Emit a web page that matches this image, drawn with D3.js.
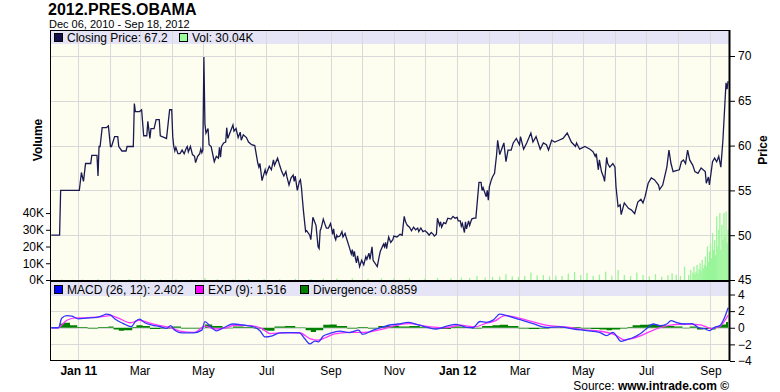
<!DOCTYPE html>
<html>
<head>
<meta charset="utf-8">
<script src="https://cdn.jsdelivr.net/npm/d3@7"></script>
<style>
  body { margin: 0; background: #fff; }
  svg { display: block; font-family: "Liberation Sans", Arial, sans-serif; }
</style>
</head>
<body>
<div class="main"></div>
<script>
// chart data: days counted from Dec 06, 2010
var startDate = new Date(2010, 11, 6);
var endDate = new Date(2012, 8, 18);

var priceDay = [0, 8, 9, 27, 29, 31, 33, 38, 39, 44, 45, 46, 47, 49, 53, 55, 57, 58, 61, 64, 65, 68, 72, 73, 79, 80, 81, 85, 87, 89, 92, 93, 95, 96, 99, 101, 104, 105, 109, 111, 114, 116, 117, 118, 119, 120, 122, 124, 126, 128, 130, 131, 132, 134, 136, 138, 139, 141, 143, 144, 145, 146, 147, 148, 149, 151, 152, 154, 157, 159, 161, 162, 163, 164, 166, 168, 169, 170, 172, 175, 176, 178, 180, 182, 183, 185, 188, 190, 193, 196, 199, 200, 201, 203, 205, 206, 207, 210, 212, 214, 215, 218, 220, 222, 224, 226, 227, 229, 231, 233, 234, 235, 237, 239, 240, 241, 242, 243, 245, 246, 249, 250, 252, 253, 255, 257, 258, 259, 260, 262, 264, 265, 267, 269, 270, 271, 272, 273, 274, 275, 276, 278, 280, 281, 283, 284, 287, 289, 290, 291, 292, 293, 294, 295, 297, 299, 301, 303, 304, 306, 307, 309, 310, 314, 316, 317, 320, 321, 322, 323, 325, 327, 329, 330, 333, 336, 338, 339, 340, 341, 342, 343, 345, 347, 349, 351, 353, 354, 356, 358, 360, 362, 364, 366, 368, 369, 371, 372, 374, 375, 376, 378, 380, 382, 385, 387, 389, 391, 392, 394, 395, 396, 398, 399, 400, 402, 403, 405, 407, 409, 412, 414, 415, 416, 419, 420, 421, 422, 424, 425, 427, 429, 430, 432, 436, 438, 440, 443, 445, 448, 451, 452, 455, 458, 462, 464, 467, 471, 474, 477, 479, 482, 485, 489, 493, 497, 501, 505, 506, 509, 514, 519, 522, 524, 525, 527, 528, 530, 532, 533, 535, 536, 538, 541, 543, 544, 546, 548, 549, 552, 556, 559, 562, 565, 568, 570, 572, 575, 578, 581, 585, 586, 589, 592, 593, 595, 597, 599, 602, 605, 607, 609, 611, 613, 615, 618, 620, 623, 626, 630, 631, 633, 634, 637, 639, 641, 643, 645, 647, 649, 650, 651, 652];
var priceVal = [50.0, 50.0, 55.0, 55.0, 57.0, 56.0, 58.0, 58.0, 58.9, 58.9, 56.6, 59.9, 59.9, 62.0, 62.0, 62.2, 59.9, 59.9, 61.0, 61.0, 59.9, 59.4, 59.4, 59.9, 59.9, 64.7, 63.8, 63.8, 64.0, 61.1, 61.1, 62.7, 60.8, 61.9, 61.9, 62.9, 62.9, 61.1, 60.9, 60.8, 64.0, 64.0, 61.0, 59.9, 59.4, 59.8, 59.1, 59.1, 59.5, 59.1, 59.7, 59.9, 59.3, 59.9, 59.0, 58.8, 58.1, 58.8, 59.1, 59.6, 59.2, 59.5, 69.9, 62.4, 61.4, 61.9, 60.1, 59.9, 58.2, 58.8, 58.6, 59.8, 58.7, 59.9, 60.3, 60.4, 62.0, 60.8, 61.4, 62.3, 61.6, 61.9, 60.9, 61.5, 60.6, 61.2, 60.9, 60.4, 60.1, 60.0, 58.0, 57.6, 58.0, 56.1, 56.9, 57.3, 56.8, 57.7, 57.3, 58.4, 57.8, 58.6, 57.8, 57.1, 56.6, 57.1, 56.5, 55.6, 56.4, 56.7, 56.0, 56.6, 55.0, 56.0, 56.2, 55.3, 53.9, 52.6, 50.4, 50.5, 50.0, 49.5, 52.0, 51.7, 51.1, 48.7, 48.5, 50.5, 50.8, 51.8, 51.1, 50.8, 50.8, 51.3, 50.8, 50.1, 50.7, 49.8, 49.5, 50.0, 49.8, 49.9, 50.4, 49.8, 50.2, 49.8, 48.7, 47.9, 48.4, 47.6, 48.2, 47.4, 46.9, 47.7, 46.5, 47.2, 46.7, 47.6, 47.3, 48.0, 47.3, 48.7, 47.2, 46.5, 47.7, 48.2, 49.0, 48.7, 49.2, 48.5, 49.8, 49.2, 49.5, 49.9, 49.8, 50.1, 50.0, 51.1, 52.1, 51.6, 51.3, 51.1, 50.9, 50.5, 50.9, 50.6, 50.8, 50.4, 50.8, 50.4, 50.5, 50.3, 50.0, 50.3, 50.1, 49.9, 50.1, 51.9, 51.1, 51.5, 50.9, 51.4, 51.3, 51.9, 51.8, 52.1, 51.9, 52.0, 51.6, 51.6, 51.0, 51.3, 50.3, 51.5, 50.7, 51.6, 51.1, 51.8, 51.9, 51.9, 55.9, 55.9, 55.0, 55.3, 54.3, 55.0, 53.9, 55.4, 56.2, 56.5, 56.9, 59.0, 60.6, 59.0, 60.3, 58.2, 59.5, 59.5, 60.3, 60.8, 60.1, 61.0, 59.6, 60.3, 61.4, 60.4, 61.0, 59.6, 60.3, 60.1, 59.5, 60.6, 60.4, 60.6, 60.8, 61.4, 60.4, 59.9, 60.3, 59.6, 59.9, 59.6, 59.3, 58.8, 59.1, 57.3, 58.4, 57.1, 56.5, 56.0, 58.7, 58.0, 57.6, 58.0, 57.6, 55.4, 53.2, 53.4, 52.3, 53.6, 53.0, 52.8, 52.4, 53.7, 54.0, 53.6, 54.3, 55.8, 56.4, 56.2, 55.6, 55.1, 55.6, 57.1, 57.6, 59.5, 58.0, 57.1, 57.2, 57.3, 58.2, 58.4, 58.0, 59.5, 58.4, 57.8, 57.1, 56.9, 57.5, 57.1, 55.8, 56.5, 55.6, 58.2, 58.6, 58.2, 58.8, 57.6, 60.6, 64.9, 67.0, 66.3, 67.2];

// volume in thousands
var volDay = [10, 20, 30, 45, 60, 75, 90, 105, 120, 135, 148, 160, 175, 190, 205, 220, 235, 250, 262, 275, 290, 305, 318, 330, 345, 360, 372, 385, 395, 403, 410, 418, 425, 432, 438, 444, 450, 456, 462, 468, 474, 480, 486, 492, 498, 504, 510, 516, 522, 528, 534, 540, 546, 552, 558, 564, 570, 576, 582, 588, 594, 598, 602, 606, 610, 614, 616, 618, 619, 620, 621, 622, 623, 624, 625, 626, 627, 628, 629, 630, 631, 632, 633, 634, 635, 636, 637, 638, 639, 640, 641, 642, 643, 644, 645, 646, 647, 648, 649, 650, 651, 652];
var volVal = [0.3, 0.2, 0.3, 0.4, 0.3, 0.5, 0.4, 0.3, 0.4, 0.3, 1.2, 0.5, 0.4, 0.6, 0.5, 0.4, 0.7, 0.6, 0.8, 0.9, 1.0, 0.8, 1.1, 0.9, 1.0, 0.8, 1.2, 1.0, 1.4, 1.2, 2.5, 1.5, 1.8, 2.0, 3.5, 2.2, 1.8, 2.5, 4.5, 2.8, 3.0, 2.2, 2.6, 2.4, 3.8, 4.8, 3.0, 4.2, 2.5, 3.2, 5.0, 2.6, 6.0, 3.0, 2.4, 4.5, 3.0, 2.2, 3.5, 2.0, 2.8, 4.0, 3.2, 2.4, 8.0, 3.0, 6.0, 4.5, 8.0, 3.5, 5.0, 9.0, 4.0, 6.5, 10.0, 5.5, 12.0, 7.0, 9.0, 14.0, 8.0, 20.0, 11.0, 17.0, 22.0, 13.0, 28.0, 18.0, 24.0, 15.0, 38.0, 20.0, 30.0, 40.0, 18.0, 33.0, 24.0, 40.0, 26.0, 41.0, 22.0, 30.0];

var macdDay = [0, 7, 10, 15, 20, 26, 34, 44, 49, 53, 57, 61, 69, 77, 81, 85, 90, 97, 105, 111, 115, 119, 126, 137, 145, 148, 153, 159, 166, 175, 185, 195, 201, 206, 212, 220, 230, 239, 244, 249, 254, 257, 262, 268, 278, 287, 296, 300, 310, 318, 326, 334, 344, 352, 362, 371, 381, 390, 400, 406, 413, 419, 426, 432, 439, 451, 464, 477, 490, 503, 516, 528, 535, 541, 549, 554, 560, 567, 573, 580, 586, 593, 597, 602, 609, 617, 623, 630, 634, 639, 644, 649, 652];
var macdVal = [0, 0, 1.15, 1.45, 1.4, 1.07, 1.15, 1.25, 1.45, 1.65, 1.55, 1.07, 0.53, 0.12, 0.74, 1.03, 0.6, 0.33, 0.12, -0.08, 0.25, -0.29, -0.62, -0.62, -0.29, 0.74, 0.2, -0.37, 0, 0.45, 0.33, 0.12, -0.37, -1.1, -1.0, -0.62, -0.58, -0.62, -1.3, -1.95, -1.6, -1.7, -1.0, -0.7, -0.4, -0.58, -0.29, -0.8, -0.29, 0.04, 0.33, 0.45, 0.65, 0.4, 0.05, -0.15, 0.2, 0.4, 0.05, 0, 0.75, 0.65, 0.95, 1.65, 1.45, 1.0, 0.5, 0.05, 0.1, -0.15, -0.35, -0.55, -0.95, -0.55, -1.65, -1.45, -1.2, -0.75, -0.15, 0.45, 0.25, 0.45, 0.85, 0.65, 0.45, 0.5, 0.05, -0.15, -0.35, 0.05, 0.25, 1.35, 2.4];

var expDay = [0, 6, 15, 23, 32, 47, 57, 64, 76, 85, 95, 105, 114, 124, 138, 148, 158, 167, 177, 191, 203, 211, 225, 239, 249, 257, 264, 273, 287, 302, 316, 334, 345, 360, 379, 394, 408, 418, 427, 437, 451, 466, 480, 499, 514, 528, 543, 552, 567, 576, 586, 598, 610, 625, 636, 644, 652];
var expVal = [0, 0, 0.9, 1.2, 1.2, 1.3, 1.45, 1.2, 0.6, 0.9, 0.55, 0.25, 0.05, -0.4, -0.55, 0.2, -0.15, -0.05, 0.3, 0.25, -0.1, -0.7, -0.6, -0.6, -1.3, -1.5, -1.2, -0.75, -0.55, -0.55, -0.25, 0.35, 0.5, 0.2, 0.0, 0.3, 0.1, 0.5, 0.8, 1.45, 1.15, 0.65, 0.25, 0.05, -0.25, -0.4, -0.85, -1.45, -1.0, -0.5, 0.0, 0.35, 0.45, 0.35, -0.1, 0.15, 1.5];

var divDay = [0, 8, 12, 18, 25, 35, 45, 55, 60, 65, 70, 78, 82, 88, 95, 105, 115, 125, 135, 145, 148, 155, 165, 175, 185, 195, 203, 208, 215, 225, 235, 245, 250, 255, 262, 268, 275, 285, 295, 305, 315, 325, 335, 345, 355, 365, 375, 385, 395, 405, 415, 425, 432, 440, 450, 460, 470, 480, 490, 500, 510, 520, 528, 535, 540, 548, 555, 560, 567, 575, 585, 592, 600, 608, 615, 622, 628, 635, 640, 645, 650, 652];
var divVal = [0, 0.5, 0.6, 0.3, 0.1, -0.1, 0.1, 0.15, -0.2, -0.35, -0.3, 0.1, 0.3, 0.2, -0.15, -0.1, 0.15, -0.1, -0.1, -0.05, 0.4, 0.2, -0.05, 0.15, 0.1, -0.1, -0.3, -0.35, 0.15, 0.2, 0.05, -0.3, -0.5, -0.3, 0.35, 0.4, 0.2, -0.1, 0.1, -0.1, 0.2, 0.25, 0.15, 0.2, 0.1, -0.1, -0.15, 0.15, 0.1, -0.1, 0.2, 0.3, 0.35, 0.2, -0.1, -0.15, -0.1, 0.05, 0.1, 0.1, -0.1, -0.15, -0.2, -0.3, -0.2, -0.1, 0.1, 0.3, 0.35, 0.4, 0.3, 0.2, 0.15, -0.05, 0.15, -0.2, -0.15, -0.2, 0.2, 0.4, 0.7, 0.89];

var priceTicks = [45, 50, 55, 60, 65, 70];
var volTicks = [0, 10, 20, 30, 40];
var macdTicks = [-4, -2, 0, 2, 4];
var monthLabels = ["Jan 11", "Mar", "May", "Jul", "Sep", "Nov", "Jan 12", "Mar", "May", "Jul", "Sep"];

var legendMain = [
  {label: "Closing Price: 67.2", fill: "#10104a"},
  {label: "Vol: 30.04K", fill: "#99ff99"}
];
var legendMacd = [
  {label: "MACD (26, 12): 2.402", fill: "#0000ff"},
  {label: "EXP (9): 1.516", fill: "#ff00ff"},
  {label: "Divergence: 0.8859", fill: "#008000"}
];

function BuildGraph() {
  var W = 780, H = 392;
  var left = 50, right = 730;
  var mainTop = 30, mainPlotTop = 44, mainBottom = 280;
  var macdTop = 282, macdPlotTop = 296, macdBottom = 361;

  var svg = d3.select(".main").append("svg")
    .attr("width", W).attr("height", H);

  var dayDate = function(d) { return d3.timeDay.offset(startDate, d); };

  var x = d3.scaleTime().domain([startDate, endDate]).range([51.3, 728.1]);
  var yPrice = d3.scaleLinear().domain([45, 71.34]).range([mainBottom, mainPlotTop]);
  var yVol = d3.scaleLinear().domain([0, 141]).range([mainBottom, mainPlotTop]);
  var yMacd = d3.scaleLinear().domain([-4, 4]).range([macdBottom, 294.5]);

  // title
  svg.append("text").attr("x", 48).attr("y", 14.5)
    .style("font-size", "16px").style("font-weight", "bold").text("2012.PRES.OBAMA");
  svg.append("text").attr("x", 49).attr("y", 28)
    .style("font-size", "11px").text("Dec 06, 2010 - Sep 18, 2012");

  // panel backgrounds
  svg.append("rect").attr("x", left).attr("y", mainTop).attr("width", right - left).attr("height", mainBottom - mainTop).attr("fill", "#fefef0");
  svg.append("rect").attr("x", left).attr("y", mainTop).attr("width", right - left).attr("height", mainPlotTop - mainTop).attr("fill", "#e4e4f6");
  svg.append("rect").attr("x", left).attr("y", macdTop).attr("width", right - left).attr("height", macdBottom - macdTop).attr("fill", "#fefef0");
  svg.append("rect").attr("x", left).attr("y", macdTop).attr("width", right - left).attr("height", macdPlotTop - macdTop).attr("fill", "#e4e4f6");

  // grid
  var months = d3.timeMonth.range(new Date(2011, 0, 1), endDate);
  var bimonths = months.filter(function(d, i) { return i % 2 === 0; });
  var grid = svg.append("g").attr("stroke", "#d9d9d9").attr("stroke-width", 1);
  months.forEach(function(m) {
    var xx = Math.round(x(m)) + 0.5;
    grid.append("line").attr("x1", xx).attr("x2", xx).attr("y1", mainTop).attr("y2", mainBottom);
  });
  bimonths.forEach(function(m) {
    var xx = Math.round(x(m)) + 0.5;
    grid.append("line").attr("x1", xx).attr("x2", xx).attr("y1", macdTop).attr("y2", macdBottom);
  });
  [50, 55, 60, 65, 70].forEach(function(p) {
    var yy = Math.round(yPrice(p)) + 0.5;
    grid.append("line").attr("x1", left).attr("x2", right).attr("y1", yy).attr("y2", yy);
  });
  [-2, 0, 2].forEach(function(v) {
    var yy = Math.round(yMacd(v)) + 0.5;
    grid.append("line").attr("x1", left).attr("x2", right).attr("y1", yy).attr("y2", yy);
  });

  // volume bars
  svg.append("g").selectAll("rect")
    .data(volDay)
    .join("rect")
    .attr("x", function(d) { return x(dayDate(d)) - 0.6; })
    .attr("width", 1.3)
    .attr("y", function(d, i) { return yVol(volVal[i]); })
    .attr("height", function(d, i) { return mainBottom - yVol(volVal[i]); })
    .attr("fill", "#99f599");

  // price line
  var priceData = priceDay.map(function(d, i) { return {date: dayDate(d), v: priceVal[i]}; });
  svg.append("path").datum(priceData)
    .attr("fill", "none").attr("stroke", "#1a1a52").attr("stroke-width", 1.3)
    .attr("d", d3.line().x(function(d) { return x(d.date); }).y(function(d) { return yPrice(d.v); }));

  // divergence
  var divData = divDay.map(function(d, i) { return {date: dayDate(d), v: divVal[i]}; });
  svg.append("path").datum(divData)
    .attr("fill", "#008000").attr("stroke", "none")
    .attr("d", d3.area().curve(d3.curveStepAfter)
      .x(function(d) { return x(d.date); })
      .y0(yMacd(0))
      .y1(function(d) { return yMacd(d.v); }));

  var expData = expDay.map(function(d, i) { return {date: dayDate(d), v: expVal[i]}; });
  var macdData = macdDay.map(function(d, i) { return {date: dayDate(d), v: macdVal[i]}; });
  var mline = d3.line().curve(d3.curveMonotoneX)
    .x(function(d) { return x(d.date); }).y(function(d) { return yMacd(d.v); });
  svg.append("path").datum(expData)
    .attr("fill", "none").attr("stroke", "#ff33ff").attr("stroke-width", 1.3).attr("d", mline);
  svg.append("path").datum(macdData)
    .attr("fill", "none").attr("stroke", "#3333ff").attr("stroke-width", 1.3).attr("d", mline);

  // frames
  svg.append("rect").attr("x", left + 0.5).attr("y", mainTop + 0.5).attr("width", right - left - 1).attr("height", macdBottom - mainTop - 1)
    .attr("fill", "none").attr("stroke", "#000");
  svg.append("rect").attr("x", left).attr("y", mainBottom).attr("width", right - left).attr("height", 2).attr("fill", "#000");
  svg.append("line").attr("x1", right - 0.5).attr("x2", right - 0.5).attr("y1", mainTop).attr("y2", macdBottom)
    .attr("stroke", "#000").attr("stroke-width", 2);

  // legends
  function legend(items, xs, yTop) {
    items.forEach(function(it, i) {
      svg.append("rect").attr("x", xs[i] + 0.5).attr("y", yTop + 3.5).attr("width", 8).attr("height", 8)
        .attr("fill", it.fill).attr("stroke", "#000");
      svg.append("text").attr("x", xs[i] + 13).attr("y", yTop + 12)
        .style("font-size", "12px").text(it.label);
    });
  }
  legend(legendMain, [54, 179], mainTop);
  legend(legendMacd, [54, 195, 300], macdTop);

  // right axes
  var priceAxis = svg.append("g").attr("transform", "translate(" + right + ",0)")
    .call(d3.axisRight(yPrice).tickValues(priceTicks).tickSize(5).tickPadding(3));
  var macdAxis = svg.append("g").attr("transform", "translate(" + right + ",0)")
    .call(d3.axisRight(yMacd).tickValues(macdTicks).tickSize(5).tickPadding(3).tickFormat(d3.format("d")));
  var volAxis = svg.append("g").attr("transform", "translate(" + left + ",0)")
    .call(d3.axisLeft(yVol).tickValues(volTicks).tickSize(4).tickPadding(2).tickFormat(function(d) { return d + "K"; }));
  [priceAxis, macdAxis, volAxis].forEach(function(a) {
    a.select(".domain").remove();
    a.selectAll("text").style("font-size", "12px").style("font-family", "Liberation Sans, Arial, sans-serif").attr("fill", "#000");
    a.selectAll("line").attr("stroke", "#000");
  });

  // bottom axis
  var labelMonths = d3.timeMonth.every(2).range(new Date(2011, 0, 1), endDate);
  var xAxis = svg.append("g").attr("transform", "translate(0," + macdBottom + ")")
    .call(d3.axisBottom(x).tickValues(labelMonths).tickSize(0).tickPadding(5)
      .tickFormat(function(d, i) { return monthLabels[i]; }));
  xAxis.select(".domain").remove();
  xAxis.selectAll("text").style("font-size", "12px").style("font-family", "Liberation Sans, Arial, sans-serif").attr("fill", "#000")
    .style("font-weight", function(d) { return d.getMonth() === 0 ? "bold" : "normal"; });

  // axis titles
  svg.append("text").attr("transform", "translate(42,140) rotate(-90)")
    .attr("text-anchor", "middle").style("font-size", "12px").style("font-weight", "bold").text("Volume");
  svg.append("text").attr("transform", "translate(767,150) rotate(-90)")
    .attr("text-anchor", "middle").style("font-size", "12px").style("font-weight", "bold").text("Price");

  // source
  var src = svg.append("text").attr("x", 729).attr("y", 390).attr("text-anchor", "end").style("font-size", "12px");
  src.append("tspan").text("Source: ");
  src.append("tspan").style("font-weight", "bold").text("www.intrade.com ©");
}

BuildGraph();
</script>
</body>
</html>
